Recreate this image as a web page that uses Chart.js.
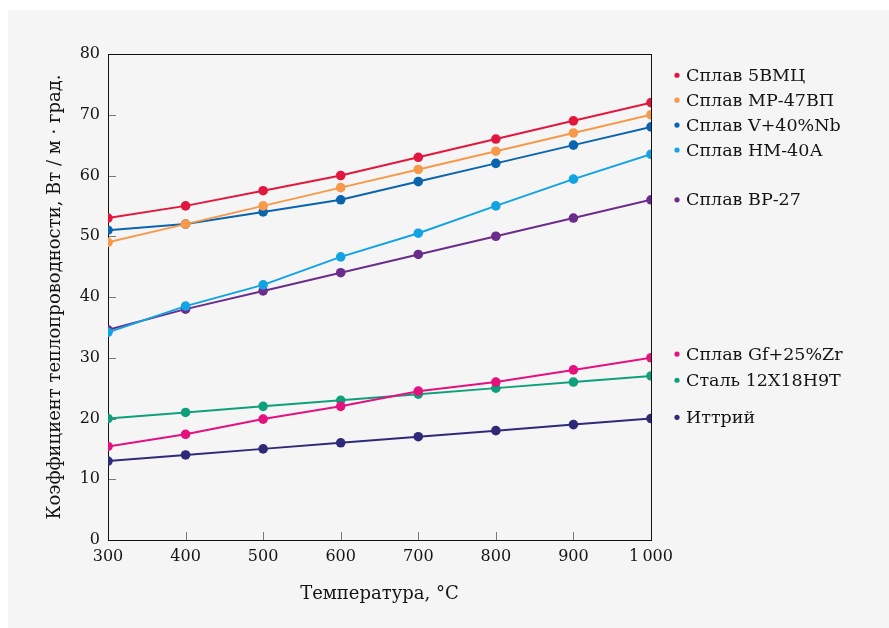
<!DOCTYPE html>
<html>
<head>
<meta charset="utf-8">
<script src="https://cdn.jsdelivr.net/npm/chart.js@4/dist/chart.umd.min.js"></script>
<style>
    html, body { margin: 0; padding: 0; background: #ffffff; }
    canvas { display: block; }
</style>
</head>
<body>
<canvas id="chart" width="889" height="628"></canvas>
<script>
// Temperature, °C
const temps = [300, 400, 500, 600, 700, 800, 900, 1000];
const tempLabels = ['300', '400', '500', '600', '700', '800', '900', '1\u2009000'];

// Thermal conductivity, W/(m·K)
const alloy5VMC   = [53, 55, 57.5, 60, 63, 66, 69, 72];
const alloyMR47VP = [49, 52, 55, 58, 61, 64, 67, 70];
const alloyV40Nb  = [51, 52, 54, 56, 59, 62, 65, 68];
const alloyNM40A  = [34.2, 38.5, 42, 46.6, 50.5, 55, 59.4, 63.5];
const alloyVR27   = [34.6, 38, 41, 44, 47, 50, 53, 56];
const alloyGfZr   = [15.4, 17.4, 19.9, 22, 24.5, 26, 28, 30];
const steel12X18  = [20, 21, 22, 23, 24, 25, 26, 27];
const yttrium     = [13, 14, 15, 16, 17, 18, 19, 20];

const seriesNames = [
    'Сплав 5ВМЦ', 'Сплав МР-47ВП', 'Сплав V+40%Nb', 'Сплав НМ-40А',
    'Сплав ВР-27', 'Сплав Gf+25%Zr', 'Сталь 12Х18Н9Т', 'Иттрий'
];
const seriesValues = [alloy5VMC, alloyMR47VP, alloyV40Nb, alloyNM40A, alloyVR27, alloyGfZr, steel12X18, yttrium];
const seriesColors = ['#e3173e', '#f7994a', '#0a64ae', '#14a3e2', '#6b2c8c', '#e4117f', '#0ea07a', '#2f2a77'];

// where each legend row sits, in axis units
const legendAt = [76.5, 72.4, 68.3, 64.2, 56, 30.6, 26.3, 20.2];

const FONT = '"DejaVu Serif", serif';
const TEXT = '#141414';

const datasets = seriesValues.map((vals, i) => ({
    label: seriesNames[i],
    data: vals.map((v, j) => ({ x: temps[j], y: v })),
    borderColor: seriesColors[i],
    backgroundColor: seriesColors[i],
    borderWidth: 2,
    pointRadius: 4.8,
    pointBorderWidth: 0,
    tension: 0
}));

// grey panel behind everything
const panelPlugin = {
    id: 'panel',
    beforeDraw(chart) {
        const ctx = chart.ctx;
        ctx.save();
        ctx.fillStyle = '#f5f5f5';
        ctx.fillRect(8, 10, chart.width - 8, chart.height - 10);
        ctx.restore();
    }
};

// frame box and inward tick marks
const framePlugin = {
    id: 'frame',
    beforeDatasetsDraw(chart) {
        const { ctx, chartArea: a, scales } = chart;
        ctx.save();
        ctx.strokeStyle = '#777';
        ctx.lineWidth = 1;
        scales.y.ticks.forEach((t, i) => {
            const py = Math.round(scales.y.getPixelForTick(i)) + 0.5;
            ctx.beginPath();
            ctx.moveTo(a.left, py);
            ctx.lineTo(a.left + 8, py);
            ctx.stroke();
        });
        scales.x.ticks.forEach((t, i) => {
            const px = Math.round(scales.x.getPixelForTick(i)) + 0.5;
            ctx.beginPath();
            ctx.moveTo(px, a.bottom);
            ctx.lineTo(px, a.bottom - 8);
            ctx.stroke();
        });
        ctx.strokeStyle = '#111';
        ctx.strokeRect(Math.round(a.left) + 0.5, Math.round(a.top) + 0.5,
            Math.round(a.right - a.left), Math.round(a.bottom - a.top));
        ctx.restore();
    }
};

// legend at the right, rows near their line ends
const legendPlugin = {
    id: 'sideLegend',
    afterDraw(chart) {
        const { ctx, scales } = chart;
        ctx.save();
        ctx.font = '17.5px ' + FONT;
        ctx.textBaseline = 'middle';
        ctx.textAlign = 'left';
        seriesNames.forEach((name, i) => {
            const py = scales.y.getPixelForValue(legendAt[i]);
            ctx.fillStyle = seriesColors[i];
            ctx.beginPath();
            ctx.arc(677, py, 2.6, 0, Math.PI * 2);
            ctx.fill();
            ctx.fillStyle = TEXT;
            ctx.fillText(name, 686, py + 1);
        });
        ctx.restore();
    }
};

new Chart(document.getElementById('chart'), {
    type: 'line',
    data: { datasets: datasets },
    options: {
        responsive: false,
        animation: false,
        layout: { padding: { left: 0, top: 54, right: 238, bottom: 23 } },
        plugins: {
            legend: { display: false },
            tooltip: { enabled: false }
        },
        scales: {
            x: {
                type: 'linear',
                min: 300,
                max: 1000,
                grid: { display: false, drawTicks: false },
                border: { display: false },
                afterFit: (s) => { s.height = 65; },
                ticks: {
                    stepSize: 100,
                    padding: 7,
                    color: TEXT,
                    font: { family: FONT, size: 16 },
                    maxRotation: 0,
                    callback: (v) => {
                        const k = temps.indexOf(v);
                        return k >= 0 ? tempLabels[k] : '';
                    }
                },
                title: {
                    display: true,
                    text: 'Температура, °C',
                    color: TEXT,
                    font: { family: FONT, size: 18 },
                    padding: 0
                }
            },
            y: {
                min: 0,
                max: 80,
                grid: { display: false, drawTicks: false },
                border: { display: false },
                afterFit: (s) => { s.width = 108; },
                ticks: {
                    stepSize: 10,
                    padding: 8,
                    color: TEXT,
                    font: { family: FONT, size: 16 }
                },
                title: {
                    display: true,
                    text: 'Коэффициент теплопроводности, Вт / м · град.',
                    color: TEXT,
                    font: { family: FONT, size: 18 },
                    padding: { top: 45, bottom: 0 }
                }
            }
        }
    },
    plugins: [panelPlugin, framePlugin, legendPlugin]
});
</script>
</body>
</html>
